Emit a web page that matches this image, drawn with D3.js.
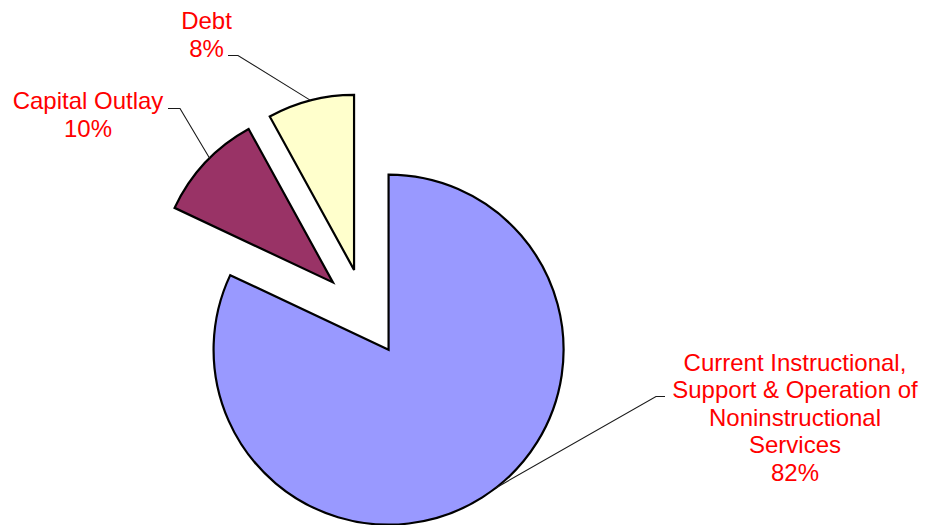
<!DOCTYPE html>
<html>
<head>
<meta charset="utf-8">
<script src="https://cdn.jsdelivr.net/npm/d3@7"></script>
<style>
  html, body { margin: 0; padding: 0; background: #ffffff; }
  svg { display: block; }
</style>
</head>
<body>
<svg id="chart" width="925" height="525"></svg>
<script>
// Expenditure shares by category
const categories = [
  "Current Instructional, Support & Operation of Noninstructional Services",
  "Capital Outlay",
  "Debt"
];
const categoryLines = [
  ["Current Instructional,", "Support & Operation of", "Noninstructional", "Services"],
  ["Capital Outlay"],
  ["Debt"]
];
const values = [82, 10, 8];
const sliceColors = ["#9999FF", "#993366", "#FFFFCC"];

// Layout
const W = 925, H = 525;
const cx = 365, cy = 312.5, radius = 175, explode = 44;
const fontSize = 24, lineHeight = 27.6;
// Leader line: where it meets the arc (angle shift from slice middle, degrees),
// where it turns horizontal, and where the label text sits
const labelLayout = [
  { shift: -5.4, elbow: [656, 396.5], end: [665, 396.5], textX: 795, firstBaseline: 370.5 },
  { shift: 2, elbow: [180, 108.5], end: [168, 108.5], textX: 88, firstBaseline: 109 },
  { shift: 0, elbow: [238, 55.5], end: [228, 55.5], textX: 206.5, firstBaseline: 29 }
];

const svg = d3.select("#chart");
const g = svg.append("g").attr("transform", `translate(${cx},${cy})`);

const data = categories.map((c, i) => ({ category: c, value: values[i], lines: categoryLines[i], i }));
const pie = d3.pie().sort(null).value(d => d.value).startAngle(0).endAngle(2 * Math.PI);
const arcs = pie(data);
const arc = d3.arc().innerRadius(0).outerRadius(radius);

function offset(a) {
  const mid = (a.startAngle + a.endAngle) / 2;
  return [explode * Math.sin(mid), -explode * Math.cos(mid)];
}

g.selectAll("path.slice")
  .data(arcs)
  .join("path")
  .attr("class", "slice")
  .attr("transform", d => { const o = offset(d); return `translate(${o[0]},${o[1]})`; })
  .attr("d", arc)
  .attr("fill", d => sliceColors[d.data.i])
  .attr("stroke", "#000")
  .attr("stroke-width", 2.2)
  .attr("stroke-linejoin", "miter");

// Leader lines from each slice's outer arc
arcs.forEach(d => {
  const L = labelLayout[d.data.i];
  const ang = (d.startAngle + d.endAngle) / 2 + L.shift * Math.PI / 180;
  const o = offset(d);
  const px = cx + o[0] + radius * Math.sin(ang);
  const py = cy + o[1] - radius * Math.cos(ang);
  svg.append("polyline")
    .attr("points", [[px, py], L.elbow, L.end].map(p => p.join(",")).join(" "))
    .attr("fill", "none")
    .attr("stroke", "#1a1a1a")
    .attr("stroke-width", 1.1);
});

// Labels: category name lines followed by the percentage
const total = d3.sum(values);
arcs.forEach(d => {
  const L = labelLayout[d.data.i];
  const lines = d.data.lines.concat([Math.round(d.data.value / total * 100) + "%"]);
  const t = svg.append("text")
    .attr("x", L.textX)
    .attr("y", L.firstBaseline)
    .attr("text-anchor", "middle")
    .attr("font-family", "Liberation Sans, Arial, sans-serif")
    .attr("font-size", fontSize)
    .attr("fill", "#FF0000");
  lines.forEach((ln, k) => {
    t.append("tspan").attr("x", L.textX).attr("y", L.firstBaseline + k * lineHeight).text(ln);
  });
});
</script>
</body>
</html>
